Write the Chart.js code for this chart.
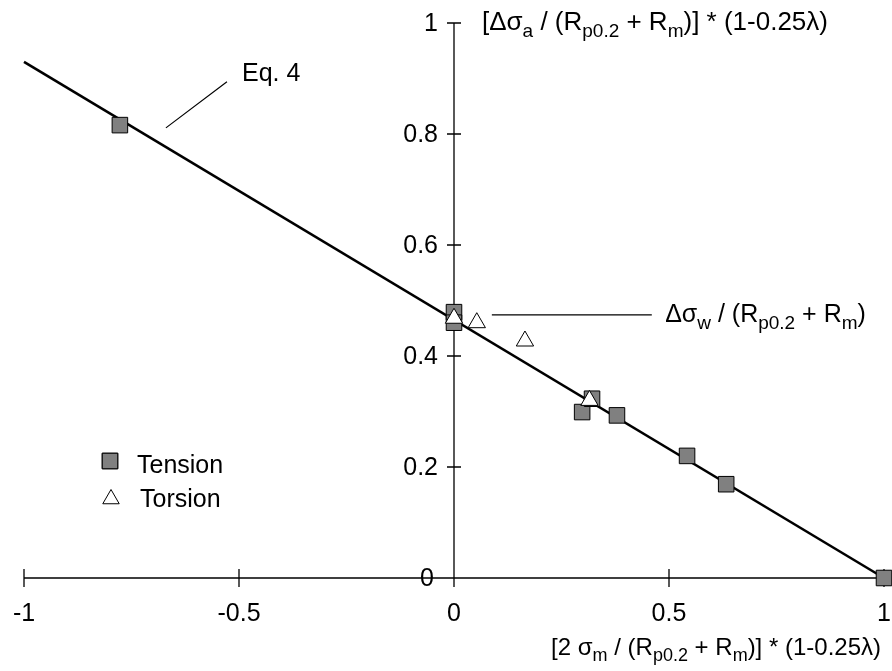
<!DOCTYPE html>
<html><head><meta charset="utf-8">
<script src="https://cdn.jsdelivr.net/npm/chart.js@4/dist/chart.umd.min.js"></script>
<style>html,body{margin:0;padding:0;background:#fff;}canvas{display:block;}</style>
</head><body>
<canvas id="c" width="892" height="671"></canvas>
<script>
// ---- data ----
const tensionX = [-0.777, 0, 0, 0.298, 0.321, 0.379, 0.542, 0.633, 1.0];
const tensionY = [0.816, 0.479, 0.460, 0.299, 0.323, 0.293, 0.220, 0.169, 0.0];
const torsionX = [0, 0.053, 0.165, 0.315];
const torsionY = [0.468, 0.460, 0.427, 0.320];
const eq4X = [-1, 1];
const eq4Y = [0.93, 0];
const xTicks = [-1, -0.5, 0, 0.5, 1];
const xTickLabels = ["-1", "-0.5", "0", "0.5", "1"];
const yTicks = [0, 0.2, 0.4, 0.6, 0.8, 1];
const yTickLabels = ["0", "0.2", "0.4", "0.6", "0.8", "1"];
const seriesNames = ["Tension", "Torsion", "Eq. 4"];

const FONT = '"Liberation Sans", Arial, sans-serif';
const pts = (xs, ys) => xs.map((x, i) => ({x: x, y: ys[i]}));

function richText(ctx, segs, x, y, size, align) {
  const sub = Math.round(size * 0.74);
  let total = 0;
  segs.forEach(s => { ctx.font = (s.sub ? sub : size) + 'px ' + FONT; total += ctx.measureText(s.t).width; });
  let cx = align === 'right' ? x - total : x;
  ctx.textAlign = 'left';
  ctx.textBaseline = 'alphabetic';
  segs.forEach(s => {
    ctx.font = (s.sub ? sub : size) + 'px ' + FONT;
    ctx.fillText(s.t, cx, s.sub ? y + size * 0.26 : y);
    cx += ctx.measureText(s.t).width;
  });
}

const axesPlugin = {
  id: 'axesPlugin',
  beforeDatasetsDraw(chart) {
    const c = chart.ctx, xs = chart.scales.x, ys = chart.scales.y;
    const x0 = xs.getPixelForValue(0), y0 = ys.getPixelForValue(0);
    c.save();
    c.strokeStyle = '#000';
    c.lineWidth = 1.3;
    c.beginPath();
    c.moveTo(xs.getPixelForValue(-1), y0); c.lineTo(xs.getPixelForValue(1), y0);
    c.moveTo(x0, ys.getPixelForValue(1)); c.lineTo(x0, y0);
    xTicks.forEach(v => { const p = xs.getPixelForValue(v); c.moveTo(p, y0 - 9); c.lineTo(p, y0 + 9); });
    yTicks.forEach(v => { const p = ys.getPixelForValue(v); c.moveTo(x0 - 7, p); c.lineTo(x0 + 7, p); });
    c.stroke();
    c.fillStyle = '#000';
    c.font = '25px ' + FONT;
    c.textAlign = 'center'; c.textBaseline = 'middle';
    xTicks.forEach((v, i) => c.fillText(xTickLabels[i], xs.getPixelForValue(v), y0 + 36));
    c.textAlign = 'right';
    yTicks.forEach((v, i) => c.fillText(yTickLabels[i], x0 - (v === 0 ? 20 : 16), ys.getPixelForValue(v) + 1));
    c.restore();
  },
  afterDatasetsDraw(chart) {
    const c = chart.ctx, xs = chart.scales.x, ys = chart.scales.y;
    const X = v => xs.getPixelForValue(v), Y = v => ys.getPixelForValue(v);
    c.save();
    c.strokeStyle = '#000'; c.fillStyle = '#000'; c.lineWidth = 1.2;
    // leader lines
    c.beginPath();
    c.moveTo(X(-0.670), Y(0.811)); c.lineTo(X(-0.528), Y(0.894));
    c.moveTo(X(0.088), Y(0.474)); c.lineTo(X(0.460), Y(0.474));
    c.stroke();
    // Eq. 4 label
    c.font = '25px ' + FONT; c.textAlign = 'left'; c.textBaseline = 'alphabetic';
    c.fillText(seriesNames[2], X(-0.493), 81);
    // Δσw label
    richText(c, [{t: 'Δσ'}, {t: 'w', sub: 1}, {t: ' / (R'}, {t: 'p0.2', sub: 1}, {t: ' + R'}, {t: 'm', sub: 1}, {t: ')'}], X(0.491), 322, 25);
    // y title
    richText(c, [{t: '[Δσ'}, {t: 'a', sub: 1}, {t: ' / (R'}, {t: 'p0.2', sub: 1}, {t: ' + R'}, {t: 'm', sub: 1}, {t: ')] * (1-0.25λ)'}], X(0.065), 30, 26);
    // x title
    richText(c, [{t: '[2 σ'}, {t: 'm', sub: 1}, {t: ' / (R'}, {t: 'p0.2', sub: 1}, {t: ' + R'}, {t: 'm', sub: 1}, {t: ')] * (1-0.25λ)'}], 881, 655, 24, 'right');
    // legend
    c.lineWidth = 1;
    Chart.helpers.drawPoint(c, {pointStyle: 'rect', radius: 11, rotation: 0, borderWidth: 1}, 110, 461);
    c.fillStyle = '#808080'; c.fill(); c.stroke();
    c.fillStyle = '#fff';
    Chart.helpers.drawPoint(c, {pointStyle: 'triangle', radius: 9.5, rotation: 0, borderWidth: 1}, 111, 499);
    c.fillStyle = '#000';
    c.font = '25px ' + FONT; c.textAlign = 'left'; c.textBaseline = 'alphabetic';
    c.fillText(seriesNames[0], 137, 473);
    c.fillText(seriesNames[1], 140, 507);
    c.restore();
  }
};

new Chart(document.getElementById('c'), {
  type: 'scatter',
  data: {
    datasets: [
      {label: seriesNames[1], data: pts(torsionX, torsionY), pointStyle: 'triangle', pointRadius: 10, pointBackgroundColor: '#fff', pointBorderColor: '#000', pointBorderWidth: 1, showLine: false, clip: false},
      {label: seriesNames[0], data: pts(tensionX, tensionY), pointStyle: 'rect', pointRadius: 11, pointBackgroundColor: '#808080', pointBorderColor: '#000', pointBorderWidth: 1, showLine: false, clip: false},
      {label: seriesNames[2], data: pts(eq4X, eq4Y), showLine: true, borderColor: '#000', borderWidth: 2.6, pointRadius: 0, fill: false, clip: false}
    ]
  },
  options: {
    responsive: false, animation: false, devicePixelRatio: 1,
    layout: {autoPadding: false, padding: {left: 24, right: 8, top: 23, bottom: 93}},
    plugins: {legend: {display: false}, tooltip: {enabled: false}},
    scales: {
      x: {type: 'linear', min: -1, max: 1, display: false},
      y: {type: 'linear', min: 0, max: 1, display: false}
    }
  },
  plugins: [axesPlugin]
});
</script>
</body></html>
